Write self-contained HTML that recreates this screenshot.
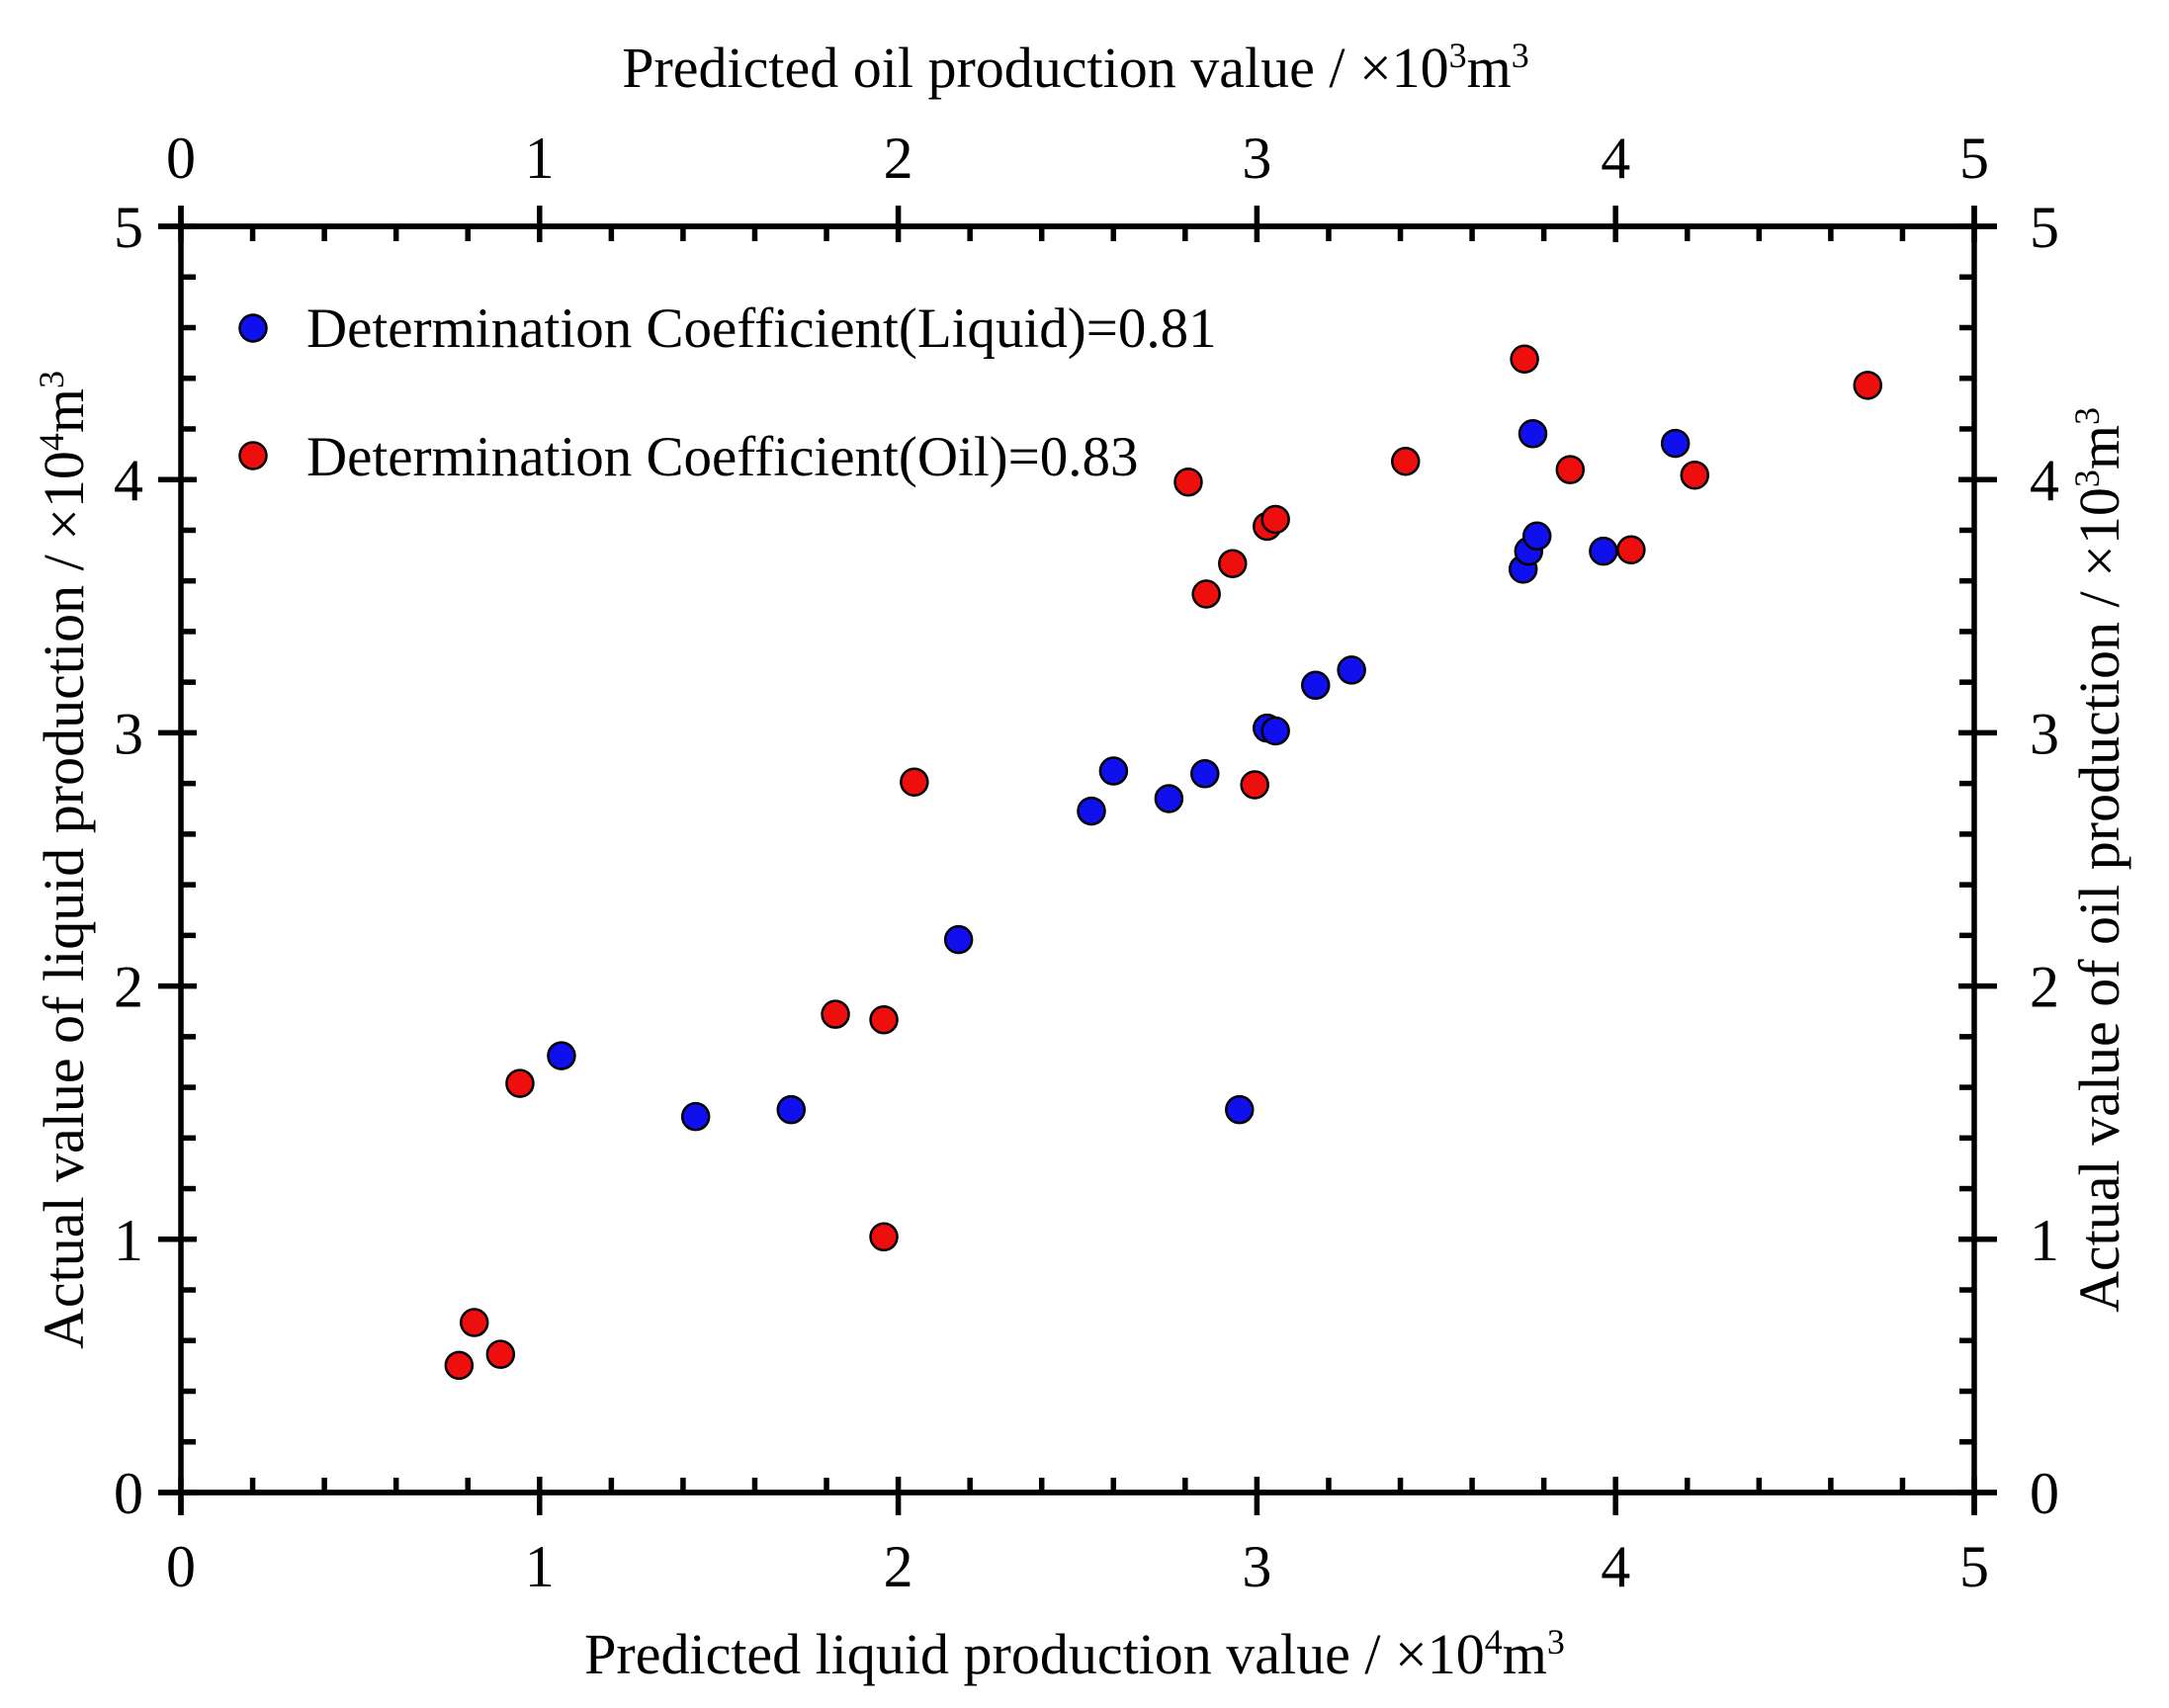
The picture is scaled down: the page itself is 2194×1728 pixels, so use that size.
<!DOCTYPE html>
<html><head><meta charset="utf-8"><style>
html,body{margin:0;padding:0;background:#fff;}
svg{display:block;font-family:"Liberation Serif",serif;}
</style></head><body>
<svg id="s" width="2194" height="1728" viewBox="0 0 2194 1728" xmlns="http://www.w3.org/2000/svg">
<rect width="2194" height="1728" fill="#fff"/>
<g id="ax" stroke="#000" stroke-width="5.5" fill="none"></g>
<g id="pts" stroke="#000" stroke-width="2.5"></g>
<g id="txt" font-size="60" fill="#000" text-anchor="middle"></g>
<text x="1088" y="88" font-size="58" text-anchor="middle">Predicted oil production value / ×10<tspan font-size="36" dy="-20">3</tspan><tspan dy="20">m</tspan><tspan font-size="36" dy="-20">3</tspan></text>
<text x="1087" y="1693" font-size="58" text-anchor="middle">Predicted liquid production value / ×10<tspan font-size="36" dy="-20">4</tspan><tspan dy="20">m</tspan><tspan font-size="36" dy="-20">3</tspan></text>
<text transform="translate(84,870) rotate(-90)" font-size="58" text-anchor="middle">Actual value of liquid production / ×10<tspan font-size="36" dy="-20">4</tspan><tspan dy="20">m</tspan><tspan font-size="36" dy="-20">3</tspan></text>
<text transform="translate(2143,870) rotate(-90)" font-size="58" text-anchor="middle">Actual value of oil production / ×10<tspan font-size="36" dy="-20">3</tspan><tspan dy="20">m</tspan><tspan font-size="36" dy="-20">3</tspan></text>
<circle cx="256" cy="332" r="13.5" fill="#1010ee" stroke="#000" stroke-width="2.5"/>
<circle cx="256" cy="461" r="13.5" fill="#ee0e0e" stroke="#000" stroke-width="2.5"/>
<text x="310" y="351" font-size="57">Determination Coefficient(Liquid)=0.81</text>
<text x="310" y="481" font-size="57">Determination Coefficient(Oil)=0.83</text>
</svg>
<script>
var L=183,R=1997,T=229,B=1510,W=R-L,H=B-T,ns="http://www.w3.org/2000/svg";
var ax=document.getElementById('ax'),tx=document.getElementById('txt'),pts=document.getElementById('pts');
function ln(a,b,c,d){var e=document.createElementNS(ns,'line');e.setAttribute('x1',a);e.setAttribute('y1',b);e.setAttribute('x2',c);e.setAttribute('y2',d);ax.appendChild(e);}
function t(x,y,s){var e=document.createElementNS(ns,'text');e.setAttribute('x',x);e.setAttribute('y',y);e.textContent=s;tx.appendChild(e);}
ln(L,T,R,T);ln(L,B,R,B);ln(L,T-21,L,B+23);ln(R,T-21,R,B+23);ln(L-23,T,R+23,T);ln(L-23,B,R+23,B);
for(var i=0;i<=25;i++){var x=L+W*i/25,y=B-H*i/25;var maj=i%5==0;
 if(maj){ln(x,B-16,x,B+23);ln(x,T+16,x,T-21);ln(L-23,y,L+16,y);ln(R+23,y,R-16,y);
  var v=i/5;t(x,1605,v);t(x,180,v);t(130,y+21,v);t(2068,y+21,v);}
 else{ln(x,B,x,B-15);ln(x,T,x,T+15);ln(L,y,L+15,y);ln(R,y,R-15,y);}}
function px(sx,sy){return [183+(sx-129)*1.3997,229+(sy-163)*1.3985];}
var blue=[[404,763],[501,807],[570,802],[691,679],[787,586],[803,557],[843,577],[869,559],[894,802],[914,526],[920,528],[949,495],[975,484],[1099,411],[1103,398],[1106,313],[1109,387],[1157,398],[1209,320]];
var red=[[330,987],[341,956],[360,979],[374,783],[602,733],[637,737],[637,894],[659,565],[857,348],[870,429],[889,407],[905,567],[914,380],[920,375],[1014,333],[1100,259],[1133,339],[1177,397],[1223,343],[1348,278]];
function dot(p,c){var q=px(p[0],p[1]);var e=document.createElementNS(ns,'circle');e.setAttribute('cx',q[0]);e.setAttribute('cy',q[1]);e.setAttribute('r',13.5);e.setAttribute('fill',c);pts.appendChild(e);}
blue.forEach(function(p){dot(p,'#1010ee')});red.forEach(function(p){dot(p,'#ee0e0e')});
</script>
</body></html>
